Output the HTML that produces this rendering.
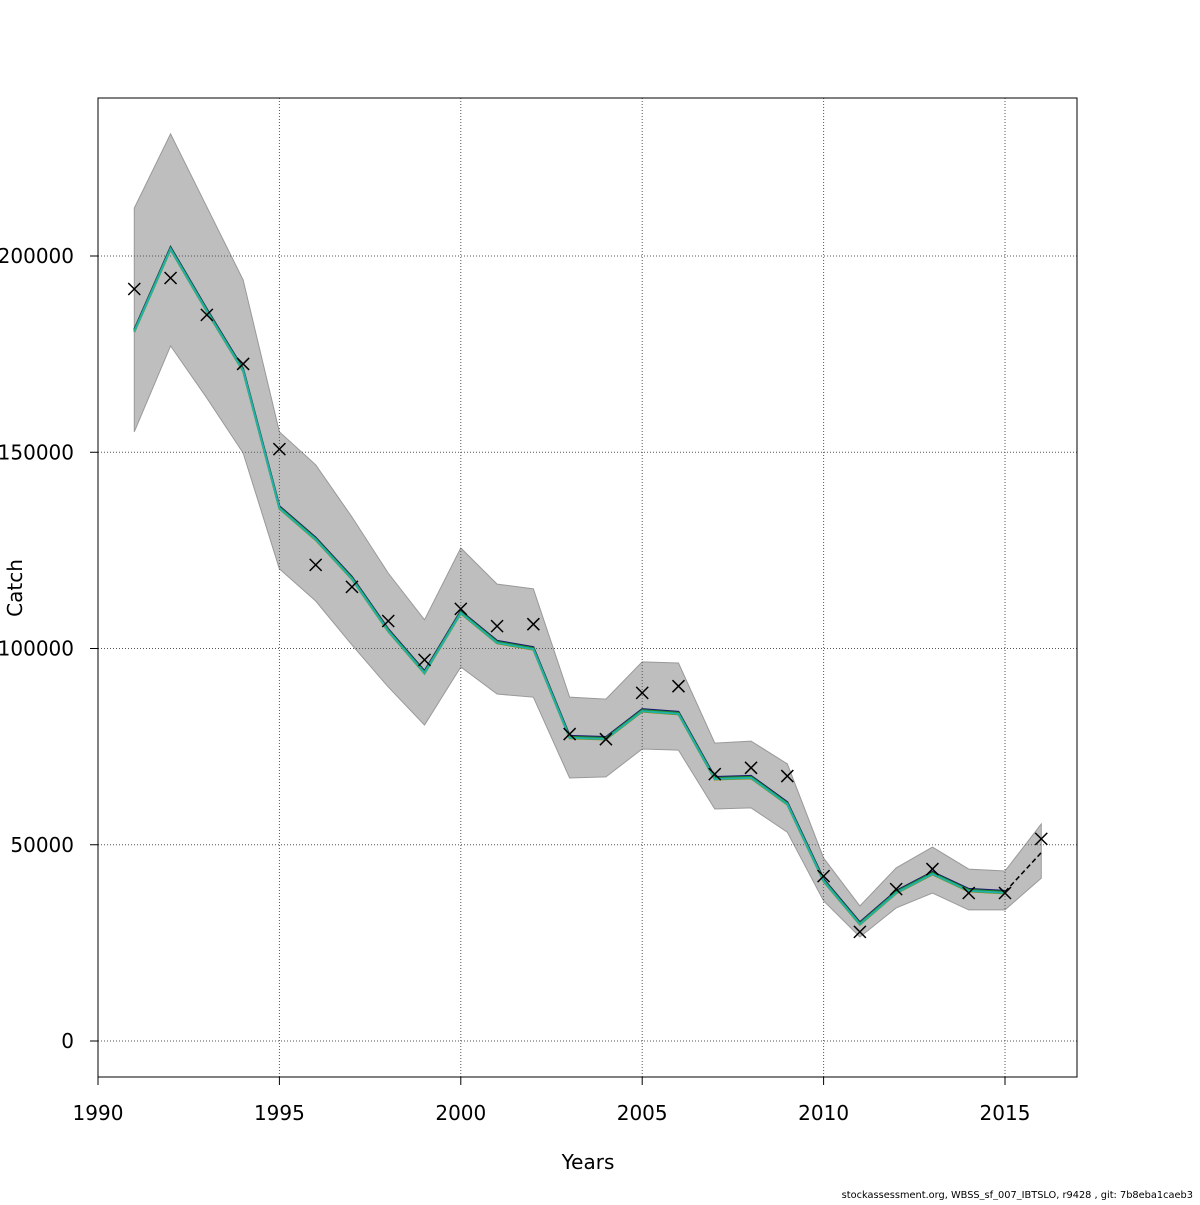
<!DOCTYPE html>
<html><head><meta charset="utf-8"><style>
body{margin:0;background:#fff;}
svg text{font-family:"DejaVu Sans","Liberation Sans",sans-serif;}
</style></head><body>
<svg id="chart" width="1200" height="1200" xmlns="http://www.w3.org/2000/svg">
<rect width="1200" height="1200" fill="#fff"/>
<g id="band"></g><g id="grid"></g><g id="lines"></g><g id="pts"></g><g id="axes"></g>
</svg>
<script>
const years=[1991,1992,1993,1994,1995,1996,1997,1998,1999,2000,2001,2002,2003,2004,2005,2006,2007,2008,2009,2010,2011,2012,2013,2014,2015,2016];
const observed=[191600,194400,185000,172500,150800,121300,115700,107000,97100,110100,105700,106200,78200,76900,88700,90400,68000,69600,67500,42000,27800,38700,43800,37700,37700,51500];
const fitted=[181000,202000,186200,171000,136000,128000,118000,104700,94000,109300,101700,100100,77500,77200,84300,83600,67000,67300,60600,41000,30000,38000,42800,38500,38000,48000];
const upper=[212200,231100,212500,193900,155200,146800,133500,119200,107300,125600,116400,115200,87600,87100,96600,96300,75900,76400,70600,46600,34400,44100,49400,43800,43300,55300];
const lower=[155200,177100,163800,149800,120300,112100,100900,90200,80500,95300,88400,87600,67000,67300,74400,74100,59100,59400,53200,35700,26500,33900,37700,33400,33400,41500];
const xTicks=[1990,1995,2000,2005,2010,2015];
const yTicks=[0,50000,100000,150000,200000];
const NS="http://www.w3.org/2000/svg";
const X=v=>98+(v-1990)*(907/25);
const Y=v=>1041-v*0.003925;
function mk(tag,attrs,parent){const e=document.createElementNS(NS,tag);for(const k in attrs)e.setAttribute(k,attrs[k]);document.getElementById(parent).appendChild(e);return e;}
let d=years.map((y,i)=>(i?'L':'M')+X(y)+','+Y(upper[i])).join('')+years.slice().reverse().map((y,j)=>{const i=years.length-1-j;return 'L'+X(y)+','+Y(lower[i]);}).join('')+'Z';
let b=mk('path',{d:d,fill:'#bebebe',stroke:'#999','stroke-width':1},'band');


xTicks.forEach(t=>{let g=mk('line',{x1:X(t),x2:X(t),y1:98,y2:1077,stroke:'#555','stroke-dasharray':'1,2','stroke-width':1},'grid');

});
yTicks.forEach(t=>{let g=mk('line',{x1:98,x2:1077,y1:Y(t),y2:Y(t),stroke:'#555','stroke-dasharray':'1,2','stroke-width':1},'grid');

});
const n=years.length-1;
const styles=[['#191970',0,-1],['#228b22',0,0],['#8b8b00',0,1.5],['#20b2aa',2,1]];
styles.forEach(s=>{let p=mk('polyline',{points:years.slice(0,n).map((y,i)=>X(y)+','+(Y(fitted[i])+s[2])).join(' '),fill:'none',stroke:s[0],'stroke-width':2},'lines');

});
let dl=mk('line',{x1:X(years[n-1]),y1:Y(fitted[n-1]),x2:X(years[n]),y2:Y(fitted[n]),stroke:'#000','stroke-dasharray':'5,3','stroke-width':1.5},'lines');


years.forEach((y,i)=>{const cx=X(y),cy=Y(observed[i]),r=6;
let p=mk('path',{d:`M${cx-r},${cy-r}L${cx+r},${cy+r}M${cx-r},${cy+r}L${cx+r},${cy-r}`,stroke:'#000','stroke-width':1.5},'pts');

});
let fr=mk('rect',{x:98,y:98,width:979,height:979,fill:'none',stroke:'#000','stroke-width':1},'axes');


mk('line',{x1:98,x2:1005,y1:1077,y2:1077,stroke:'#000'},'axes');
xTicks.forEach(t=>{mk('line',{x1:X(t),x2:X(t),y1:1077,y2:1085,stroke:'#000'},'axes');
let tx=mk('text',{x:X(t),y:1120,'font-size':20,'text-anchor':'middle'},'axes');tx.textContent=t;

});
yTicks.forEach(t=>{mk('line',{x1:90,x2:98,y1:Y(t),y2:Y(t),stroke:'#000'},'axes');
let tx=mk('text',{x:74,y:Y(t)+7,'font-size':20,'text-anchor':'end'},'axes');tx.textContent=t;

});
let xt=mk('text',{x:588,y:1169,'font-size':20,'text-anchor':'middle'},'axes');xt.textContent='Years';


let yt=mk('text',{x:22,y:588,'font-size':20,'text-anchor':'middle',transform:'rotate(-90 22 588)'},'axes');yt.textContent='Catch';


let ft=mk('text',{x:1193,y:1198,'font-size':9.8,'text-anchor':'end'},'axes');ft.textContent='stockassessment.org, WBSS_sf_007_IBTSLO, r9428 , git: 7b8eba1caeb3';


</script>
</body></html>
